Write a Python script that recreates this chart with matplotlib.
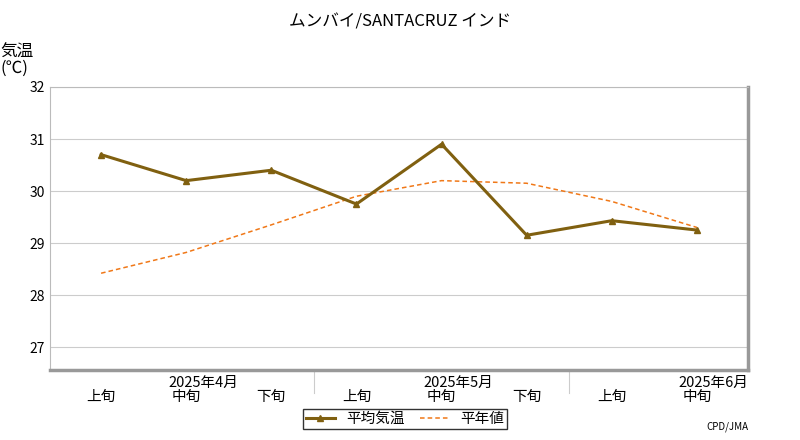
import matplotlib.pyplot as plt

plt.rcParams["font.family"] = "Noto Sans CJK JP"

junsyun = ["上旬", "中旬", "下旬", "上旬", "中旬", "下旬", "上旬", "中旬"]
tsuki = ["2025年4月", "2025年5月", "2025年6月"]
heikin = [30.7, 30.2, 30.4, 29.75, 30.9, 29.15, 29.43, 29.25]
heinen = [28.42, 28.82, 29.35, 29.9, 30.2, 30.15, 29.8, 29.3]

fig = plt.figure(figsize=(8, 4.4), dpi=100)
ax = fig.add_axes([50 / 800, 1 - 370 / 440, 698 / 800, 283 / 440])
x = list(range(len(heikin)))

ax.plot(x, heinen, color="#f07818", linestyle=(0, (3, 2)), linewidth=1.1, label="平年値")
ax.plot(x, heikin, color="#806010", linewidth=2.2, marker="^", markersize=5, label="平均気温")

ax.set_xlim(-0.6, 7.6)
ax.set_ylim(26.56, 32)
ax.set_yticks([27, 28, 29, 30, 31, 32])
ax.tick_params(axis="y", length=0, labelsize=10)
ax.set_xticks([])
ax.grid(axis="y", color="#cccccc", linewidth=0.8)
for s in ["left", "top"]:
    ax.spines[s].set_color("#bbbbbb")
for s in ["right", "bottom"]:
    ax.spines[s].set_color("#999999")
    ax.spines[s].set_linewidth(2.5)

for i, j in enumerate(junsyun):
    ax.text(i, -0.095, j, transform=ax.get_xaxis_transform(), ha="center", va="center", fontsize=10.5)
for k, m in enumerate(tsuki):
    xm = 1.2 + 3 * k if k < 2 else 7.6
    ax.text(xm, -0.045, m, transform=ax.get_xaxis_transform(),
            ha="center" if k < 2 else "right", va="center", fontsize=10.5)
for xs in [2.5, 5.5]:
    ax.plot([xs, xs], [0.0, -0.08], transform=ax.get_xaxis_transform(),
            color="#cccccc", linewidth=0.8, clip_on=False)

fig.text(0.5, 1 - 22 / 440, "ムンバイ/SANTACRUZ インド", ha="center", va="center", fontsize=12)
fig.text(0 / 800, 1 - 60 / 440, "気温\n(℃)", ha="left", va="center", fontsize=12, linespacing=0.95)
fig.text(748 / 800, 1 - 427 / 440, "CPD/JMA", ha="right", va="center", fontsize=7)

h, l = ax.get_legend_handles_labels()
fig.legend(h[::-1], l[::-1], loc="center", bbox_to_anchor=(405 / 800, 1 - 419 / 440), ncol=2,
           fontsize=10.5, frameon=True, fancybox=False, edgecolor="black",
           borderpad=0.2, handlelength=2.0, columnspacing=1.0)

fig.savefig("out.png", dpi=100)
